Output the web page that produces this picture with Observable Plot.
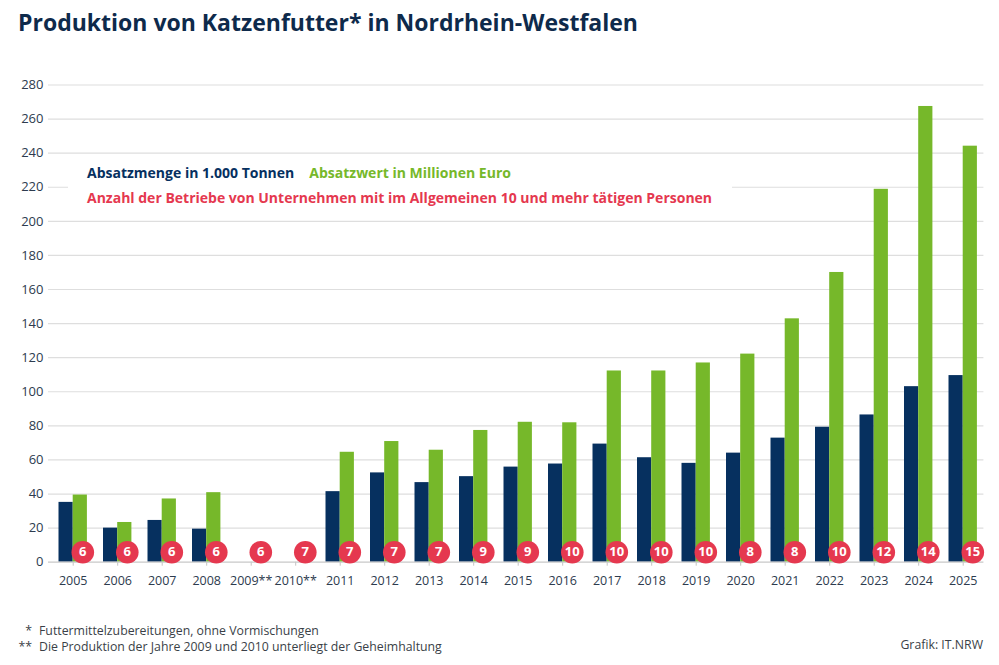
<!DOCTYPE html>
<html>
<head>
<meta charset="utf-8">
<script src="https://cdn.jsdelivr.net/npm/d3@7"></script>
<script src="https://cdn.jsdelivr.net/npm/@observablehq/plot@0.6"></script>
<style>
  html, body { margin: 0; padding: 0; background: #fff; }
  body { width: 999px; height: 665px; position: relative; overflow: hidden; font-family: "Open Sans", sans-serif; }
  #title { position: absolute; left: 18px; top: 7px; font-size: 23px; line-height: 30px; font-weight: 700; color: #0e2a4b; white-space: nowrap; }
  #chart { position: absolute; left: 0; top: 60px; }
  #legend { position: absolute; left: 68px; top: 160px; width: 664px; height: 55px; background: #fff; box-sizing: border-box; padding-left: 19px; padding-top: 0px; font-size: 14px; font-weight: 700; line-height: 25px; white-space: nowrap; }
  #notes { position: absolute; left: 18px; top: 622.5px; font-size: 12.3px; line-height: 16px; color: #3a3f47; white-space: nowrap; }
  #notes .s { display: inline-block; width: 14px; text-align: right; margin-right: 7px; }
  #credit { position: absolute; right: 16px; top: 637px; font-size: 12.3px; line-height: 16px; color: #3a3f47; }
  svg [aria-label="x-axis tick"] { stroke: #c4c4c4; }
  svg [aria-label="y-axis tick label"] { font-size: 13px; }
</style>
</head>
<body>
<div id="title">Produktion von Katzenfutter* in Nordrhein-Westfalen</div>
<div id="chart"></div>
<div id="legend"></div>
<div id="notes"></div>
<div id="credit">Grafik: IT.NRW</div>
<script>
const years = ["2005","2006","2007","2008","2009**","2010**","2011","2012","2013","2014","2015","2016","2017","2018","2019","2020","2021","2022","2023","2024","2025"];
const absatzmenge = [35.1, 20.0, 24.5, 19.4, null, null, 41.4, 52.4, 46.7, 50.2, 55.8, 57.6, 69.3, 61.3, 58.0, 64.0, 72.8, 79.2, 86.4, 103.0, 109.5];
const absatzwert = [39.4, 23.3, 37.1, 40.8, null, null, 64.5, 70.8, 65.7, 77.3, 82.1, 81.8, 112.2, 112.2, 116.9, 122.1, 142.8, 170.0, 218.8, 267.4, 244.1];
const betriebe = [6, 6, 6, 6, 6, 7, 7, 7, 7, 9, 9, 10, 10, 10, 10, 8, 8, 10, 12, 14, 15];
const yTicks = [0, 20, 40, 60, 80, 100, 120, 140, 160, 180, 200, 220, 240, 260, 280];

const legendItems = [
  {label: "Absatzmenge in 1.000 Tonnen", color: "#06305f"},
  {label: "Absatzwert in Millionen Euro", color: "#76b82a"},
  {label: "Anzahl der Betriebe von Unternehmen mit im Allgemeinen 10 und mehr tätigen Personen", color: "#e5384f"}
];
const footnotes = [
  {sym: "*", text: "Futtermittelzubereitungen, ohne Vormischungen"},
  {sym: "**", text: "Die Produktion der Jahre 2009 und 2010 unterliegt der Geheimhaltung"}
];

const navy = legendItems[0].color, green = legendItems[1].color, red = legendItems[2].color;

const data = years.map((year, i) => ({year, menge: absatzmenge[i], wert: absatzwert[i], betriebe: betriebe[i]}));

const chart = Plot.plot({
  width: 999,
  height: 545,
  marginTop: 24.5,
  marginBottom: 43.3,
  marginLeft: 48,
  marginRight: 11.6,
  style: {fontFamily: "Open Sans", fontSize: "12.5px", color: "#2d3b4e", background: "white", overflow: "visible"},
  x: {domain: years, paddingInner: 0.362, paddingOuter: 0.236, round: false, label: null, tickSize: 4, tickPadding: 10},
  y: {domain: [0, 280], ticks: yTicks, label: null, tickSize: 0, tickPadding: 5},
  marks: [
    Plot.ruleY(yTicks.filter(d => d > 0), {stroke: "#dedede", strokeWidth: 1.2, insetRight: 4}),
    Plot.barY(data, {x: "year", y: "menge", fill: navy, insetRight: 14.2}),
    Plot.barY(data, {x: "year", y: "wert", fill: green, insetLeft: 14.2}),
    Plot.ruleY([0], {stroke: "#c8c8c8", strokeWidth: 1.2, insetRight: 4}),
    Plot.dot(data, {x: "year", y: () => 0, dx: 9.6, dy: -10, r: 11.3, fill: red, stroke: "none"}),
    Plot.text(data, {x: "year", y: () => 0, dx: 9.6, dy: -10, text: d => String(d.betriebe), fill: "white", fontWeight: "bold", fontSize: 13})
  ]
});
document.getElementById("chart").appendChild(chart);

const lg = document.getElementById("legend");
lg.innerHTML =
  `<div><span style="color:${legendItems[0].color};margin-right:15px">${legendItems[0].label}</span><span style="color:${legendItems[1].color}">${legendItems[1].label}</span></div>` +
  `<div style="color:${legendItems[2].color}">${legendItems[2].label}</div>`;

document.getElementById("notes").innerHTML = footnotes.map(f => `<div><span class="s">${f.sym}</span>${f.text}</div>`).join("");
</script>
</body>
</html>
